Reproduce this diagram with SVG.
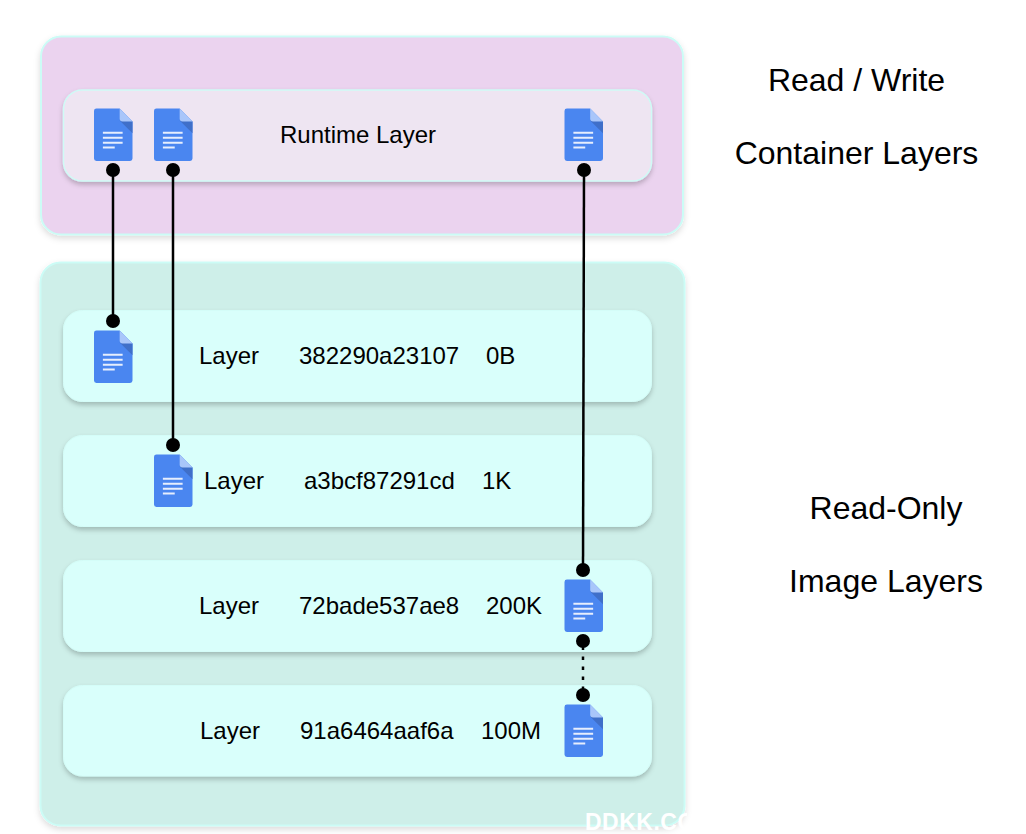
<svg xmlns="http://www.w3.org/2000/svg" xmlns:xlink="http://www.w3.org/1999/xlink" width="1026" height="834" viewBox="0 0 1026 834">
<style>
text{font-family:"Liberation Sans",Arial,sans-serif;fill:#000}
.lbl{font-size:24px}
.big{font-size:32px}
.outer{stroke:#ccfcf6;stroke-width:2}
.inner{fill:#d9fffb;stroke:#d4fdf8;stroke-width:1}
.conn{stroke:#000;stroke-width:2.500;fill:none}
.dot{fill:#000}
</style>
<defs>
<filter id="sh" x="-10%" y="-20%" width="120%" height="140%"><feDropShadow dx="0" dy="3" stdDeviation="2.500" flood-color="#000" flood-opacity="0.22"/></filter>
<filter id="sh2" x="-10%" y="-10%" width="120%" height="120%"><feDropShadow dx="0" dy="3" stdDeviation="3" flood-color="#000" flood-opacity="0.14"/></filter>
<clipPath id="wm"><rect x="580" y="800" width="107" height="34"/></clipPath>
<symbol id="doc" width="38.500" height="52.500" viewBox="0 0 39 53" overflow="visible">
<path d="M2.500 0H26L39 13V50.500A2.500 2.500 0 0 1 36.500 53H2.500A2.500 2.500 0 0 1 0 50.500V2.500A2.500 2.500 0 0 1 2.500 0Z" fill="#4a86f0"/>
<path d="M26 12L39 25V13L31 9Z" fill="#3f6fc9"/>
<path d="M26 0L39 13H29A3 3 0 0 1 26 10Z" fill="#a9c6fa"/>
<path d="M9 24.500H29M9 29.500H29M9 34.500H29M9 39.500H21" stroke="#e6eefd" stroke-width="2" fill="none"/>
</symbol>
</defs>
<rect width="1026" height="834" fill="#fff"/>
<g id="container-layers">
<rect class="outer" x="41" y="36.500" width="642" height="198" rx="20" fill="#ebd3ef" filter="url(#sh2)"/>
</g>
<g id="image-layers">
<rect class="outer" x="40.500" y="262.500" width="644" height="563" rx="20" fill="#ceefe9" filter="url(#sh2)"/>
</g>
<g id="runtime-layer">
<rect x="63.500" y="90" width="588" height="91" rx="19" fill="#eee5f2" stroke="#cffbf6" stroke-width="1.500" filter="url(#sh)"/>
<text class="lbl" x="358" y="142.500" text-anchor="middle">Runtime Layer</text>
<use xlink:href="#doc" href="#doc" x="94" y="108.500"/>
<use xlink:href="#doc" href="#doc" x="154" y="108.500"/>
<use xlink:href="#doc" href="#doc" x="564.500" y="108.500"/>
</g>
<g id="layer-1">
<rect class="inner" x="63.500" y="310.500" width="588" height="91" rx="19" filter="url(#sh)"/>
<text class="lbl" x="199" y="364">Layer</text>
<text class="lbl" x="299" y="364">382290a23107</text>
<text class="lbl" x="486" y="364">0B</text>
<use xlink:href="#doc" href="#doc" x="94" y="330.500"/>
</g>
<g id="layer-2">
<rect class="inner" x="63.500" y="435.500" width="588" height="91" rx="19" filter="url(#sh)"/>
<text class="lbl" x="204" y="489">Layer</text>
<text class="lbl" x="304" y="489">a3bcf87291cd</text>
<text class="lbl" x="482" y="489">1K</text>
<use xlink:href="#doc" href="#doc" x="154" y="454.500"/>
</g>
<g id="layer-3">
<rect class="inner" x="63.500" y="560.500" width="588" height="91" rx="19" filter="url(#sh)"/>
<text class="lbl" x="199" y="614">Layer</text>
<text class="lbl" x="299" y="614">72bade537ae8</text>
<text class="lbl" x="486" y="614">200K</text>
<use xlink:href="#doc" href="#doc" x="564.500" y="579.500"/>
</g>
<g id="layer-4">
<rect class="inner" x="63.500" y="685.500" width="588" height="90.500" rx="19" filter="url(#sh)"/>
<text class="lbl" x="200" y="739">Layer</text>
<text class="lbl" x="300" y="739">91a6464aaf6a</text>
<text class="lbl" x="481" y="739">100M</text>
<use xlink:href="#doc" href="#doc" x="564.500" y="704.500"/>
</g>
<g id="connectors">
<path class="conn" d="M113 170V321"/><circle class="dot" cx="113" cy="170" r="7"/><circle class="dot" cx="113" cy="321" r="7"/>
<path class="conn" d="M173 170V445"/><circle class="dot" cx="173" cy="170" r="7"/><circle class="dot" cx="173" cy="445" r="7"/>
<path class="conn" d="M584 170L583 570"/><circle class="dot" cx="584" cy="170" r="7"/><circle class="dot" cx="583" cy="570" r="7"/>
<path class="conn" d="M583 646.500V690" stroke-dasharray="3.500 6.500"/><circle class="dot" cx="583" cy="641" r="7"/><circle class="dot" cx="583" cy="695" r="7"/>
</g>
<g id="captions">
<text class="big" x="856.500" y="91" text-anchor="middle">Read / Write</text>
<text class="big" x="856.500" y="164" text-anchor="middle">Container Layers</text>
<text class="big" x="886" y="519" text-anchor="middle">Read-Only</text>
<text class="big" x="886" y="592" text-anchor="middle">Image Layers</text>
</g>
<g id="watermark" clip-path="url(#wm)">
<text x="585" y="829.500" style="fill:#fff;font-size:23px;font-weight:700;letter-spacing:.5px">DDKK.COM</text>
</g>
</svg>
